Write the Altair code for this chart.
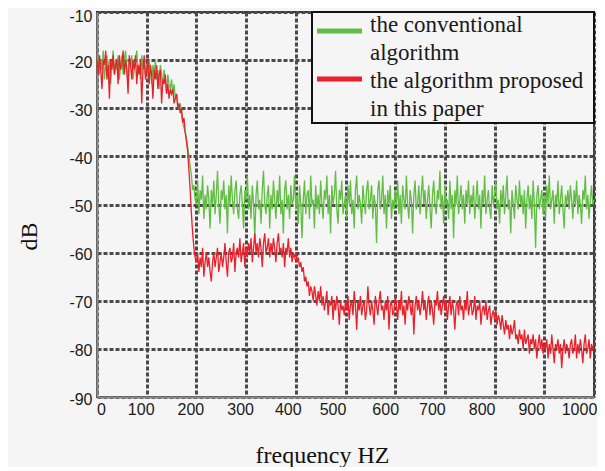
import altair as alt
import pandas as pd

# ---------------- data (2.5 Hz steps) ----------------
freqs = [i * 2.5 for i in range(401)]

conventional_db = [
    -21, -19, -23, -20, -22, -18, -24, -21, -19, -22, -20, -25, -21, -18, -23, -20, -22, -19, -24, -21,
    -19, -23, -20, -18, -22, -25, -20, -21, -19, -24, -22, -20, -18, -23, -21, -24, -19, -22, -20, -23,
    -21, -24, -20, -22, -25, -21, -23, -20, -24, -22, -26, -21, -23, -25, -22, -24, -27, -23, -25, -26,
    -24, -27, -25, -28, -27, -29, -30, -29, -31, -33, -34, -35, -36, -38, -40, -42, -44, -47, -46, -49,
    -50, -45, -52, -47, -49, -44, -53, -48, -51, -46, -49, -55, -47, -50, -45, -52, -48, -43, -50, -54,
    -47, -49, -45, -51, -48, -56, -46, -50, -44, -49, -52, -47, -45, -51, -53, -48, -46, -50, -55, -47,
    -49, -44, -51, -48, -53, -46, -50, -57, -48, -45, -51, -49, -54, -47, -43, -50, -52, -48, -46, -55,
    -48, -51, -45, -49, -53, -47, -50, -44, -52, -49, -56, -47, -45, -51, -48, -53, -46, -50, -49, -44,
    -51, -48, -54, -46, -50, -57, -49, -45, -52, -48, -47, -53, -44, -50, -49, -55, -46, -51, -48, -52,
    -45, -50, -53, -47, -49, -44, -52, -48, -56, -46, -50, -48, -43, -51, -54, -47, -49, -45, -52, -50,
    -48, -53, -46, -50, -45, -52, -49, -55, -47, -44, -51, -48, -50, -54, -46, -49, -52, -47, -45, -51,
    -49, -46, -53, -48, -50, -58, -47, -45, -51, -49, -44, -52, -48, -55, -47, -50, -46, -53, -49, -51,
    -47, -50, -45, -52, -48, -54, -46, -49, -51, -44, -50, -53, -47, -49, -56, -48, -45, -51, -50, -46,
    -52, -48, -44, -50, -47, -53, -49, -46, -51, -55, -48, -45, -50, -52, -47, -49, -43, -51, -48, -54,
    -46, -50, -49, -53, -45, -51, -48, -57, -47, -50, -44, -52, -49, -46, -51, -48, -54, -47, -50, -45,
    -52, -48, -50, -46, -53, -49, -45, -51, -48, -55, -47, -50, -44, -52, -49, -47, -51, -53, -46, -50,
    -48, -45, -51, -49, -54, -47, -50, -46, -52, -48, -44, -51, -49, -56, -47, -50, -53, -46, -49, -51,
    -45, -50, -48, -52, -47, -55, -49, -46, -51, -48, -53, -45, -50, -59, -48, -46, -51, -49, -47, -52,
    -48, -53, -46, -50, -44, -51, -49, -47, -54, -48, -50, -45, -52, -49, -46, -51, -55, -48, -50, -47,
    -51, -46, -49, -53, -47, -50, -45, -52, -48, -50, -54, -47, -49, -44, -51, -48, -53, -49, -46, -50,
    -49,
]

proposed_db = [
    -20, -23, -19, -22, -26, -20, -21, -18, -24, -21, -28, -20, -22, -19, -23, -21, -20, -25, -19, -22,
    -21, -18, -23, -20, -22, -27, -19, -21, -24, -20, -22, -19, -25, -21, -23, -20, -29, -22, -19, -24,
    -22, -20, -25, -21, -23, -28, -22, -24, -21, -26, -23, -22, -29, -24, -25, -23, -27, -25, -28, -26,
    -27, -26, -29, -28, -27, -30, -29, -31, -30, -33, -32, -35, -37, -39, -43, -47, -52, -56, -59, -61,
    -62, -60, -64, -61, -63, -59, -65, -62, -60, -63, -61, -64, -66, -62, -60, -63, -61, -59, -64, -62,
    -60, -63, -61, -58, -62, -65, -60, -59, -62, -61, -58, -64, -60, -59, -61, -57, -62, -60, -58, -63,
    -59, -61, -58, -60, -57, -62, -59, -56, -60, -58, -61, -57, -59, -63, -58, -56, -60, -59, -57, -61,
    -58, -60, -57, -59, -62, -58, -56, -60, -59, -61, -58, -63, -59, -60, -57, -61, -59, -62, -60, -61,
    -60, -62, -61, -63, -62, -64, -63, -66, -65, -67, -66, -69, -67, -68, -70, -67, -69, -71, -68, -70,
    -67, -71, -69, -72, -70, -68, -73, -70, -71, -69, -74, -70, -72, -69, -71, -75, -70, -72, -71, -73,
    -70, -72, -69, -74, -71, -70, -73, -68, -71, -76, -70, -72, -69, -73, -71, -70, -74, -72, -67, -71,
    -73, -70, -72, -75, -69, -71, -73, -70, -68, -72, -71, -74, -70, -72, -69, -76, -71, -70, -73, -72,
    -69, -71, -74, -70, -72, -68, -73, -71, -75, -70, -72, -69, -71, -73, -70, -77, -71, -69, -72, -70,
    -73, -71, -68, -72, -70, -74, -71, -69, -73, -70, -72, -75, -70, -71, -68, -72, -70, -73, -71, -69,
    -72, -70, -74, -71, -69, -73, -70, -72, -76, -71, -70, -73, -69, -72, -71, -74, -70, -72, -68, -73,
    -71, -70, -73, -72, -69, -74, -71, -72, -70, -75, -72, -71, -73, -70, -74, -72, -71, -75, -73, -72,
    -74, -72, -75, -73, -74, -76, -73, -75, -77, -74, -76, -75, -78, -75, -77, -76, -74, -78, -77, -79,
    -76, -78, -77, -80, -76, -79, -78, -77, -81, -78, -79, -77, -80, -78, -82, -79, -77, -80, -78, -81,
    -79, -80, -78, -82, -79, -81, -77, -80, -83, -79, -80, -78, -81, -79, -84, -80, -78, -81, -79, -80,
    -82, -79, -78, -81, -80, -77, -82, -79, -81, -78, -80, -83, -79, -77, -81, -80, -78, -82, -79, -80,
    -79,
]

series_names = ["the conventional algorithm", "the algorithm proposed in this paper"]
series_colors = ["#62bd45", "#e8212b"]
legend_lines = [["the conventional", "algorithm"], ["the algorithm proposed", "in this paper"]]
x_ticks = list(range(0, 1001, 100))
y_ticks = list(range(-90, -9, 10))
x_title = "frequency HZ"
y_title = "dB"

# ---------------- tables ----------------
df_conv = pd.DataFrame({"freq": freqs, "db": conventional_db, "series": series_names[0]})
df_prop = pd.DataFrame({"freq": freqs, "db": proposed_db, "series": series_names[1]})
one = pd.DataFrame({"k": [0]})

BG = "#f5f5f5"
GRID = dict(grid=True, gridDash=[4, 2], gridColor="#4a4a4a", gridWidth=3)

x_label_offset = {
    "condition": [
        {"test": "datum.value == 0", "value": 4},
        {"test": "datum.value <= 300", "value": -6},
        {"test": "datum.value == 400", "value": -8},
        {"test": "datum.value == 600", "value": -10},
        {"test": "datum.value == 1000", "value": -15},
    ],
    "value": -13,
}
y_label_offset = {"condition": {"test": "datum.value == -10", "value": 4}, "value": 2}

x_enc = alt.X(
    "freq:Q",
    scale=alt.Scale(domain=[0, 1000], nice=False, zero=False),
    axis=alt.Axis(
        values=x_ticks, ticks=False, domainColor="#8a8a8a", domainWidth=2,
        labelExpr="'' + datum.value",
        labelFont="Liberation Sans", labelFontSize=16, labelColor="#1a1a1a",
        labelPadding=4, labelFlush=False, labelOffset=x_label_offset,
        title=x_title, titleFont="Liberation Serif", titleFontSize=24,
        titleFontWeight="normal", titleColor="#111111",
        titleX=225, titleY=65, titleBaseline="alphabetic", titleAlign="center",
        **GRID,
    ),
)
y_enc = alt.Y(
    "db:Q",
    scale=alt.Scale(domain=[-90, -10], nice=False, zero=False),
    axis=alt.Axis(
        values=y_ticks, ticks=False, domainColor="#8a8a8a", domainWidth=2,
        labelExpr="'' + datum.value",
        labelFont="Liberation Sans", labelFontSize=16, labelColor="#1a1a1a",
        labelPadding=5, labelFlush=False, labelOffset=y_label_offset,
        title=y_title, titleFont="Liberation Serif", titleFontSize=24,
        titleFontWeight="normal", titleColor="#111111",
        titleX=-68, titleY=224, titleAngle=270, titleAlign="center",
        titleBaseline="middle",
        **GRID,
    ),
)

line_conv = alt.Chart(df_conv).mark_line(strokeWidth=1.3, color=series_colors[0]).encode(x=x_enc, y=y_enc)
line_prop = alt.Chart(df_prop).mark_line(strokeWidth=1.3, color=series_colors[1]).encode(x=x_enc, y=y_enc)

# ---------------- legend (drawn by hand inside the plot) ----------------
legend_box = alt.Chart(one).mark_rect(fill=BG, stroke="#111111", strokeWidth=2).encode(
    x=alt.value(215), x2=alt.value(497), y=alt.value(0), y2=alt.value(111)
)
sym_conv = alt.Chart(one).mark_rule(strokeWidth=5, color=series_colors[0]).encode(
    x=alt.value(220), x2=alt.value(265), y=alt.value(19)
)
sym_prop = alt.Chart(one).mark_rule(strokeWidth=5, color=series_colors[1]).encode(
    x=alt.value(220), x2=alt.value(265), y=alt.value(67)
)
txt_style = dict(align="left", baseline="alphabetic", font="Liberation Serif",
                 fontSize=23, lineHeight=28, color="#1a1a1a")
txt_conv = alt.Chart(one).mark_text(**txt_style).encode(
    x=alt.value(273), y=alt.value(20), text=alt.value(legend_lines[0])
)
txt_prop = alt.Chart(one).mark_text(**txt_style).encode(
    x=alt.value(273), y=alt.value(76), text=alt.value(legend_lines[1])
)

chart = (
    alt.layer(line_conv, line_prop, legend_box, sym_conv, sym_prop, txt_conv, txt_prop)
    .properties(
        width=497, height=385, background=BG,
        autosize=alt.AutoSizeParams(type="none"),
        padding={"left": 89, "top": 4, "right": 3, "bottom": 70},
    )
    .configure_view(stroke="#333333", strokeWidth=2, fill=BG)
)

chart.save("out.html", embed_options={"renderer": "svg", "actions": False})
